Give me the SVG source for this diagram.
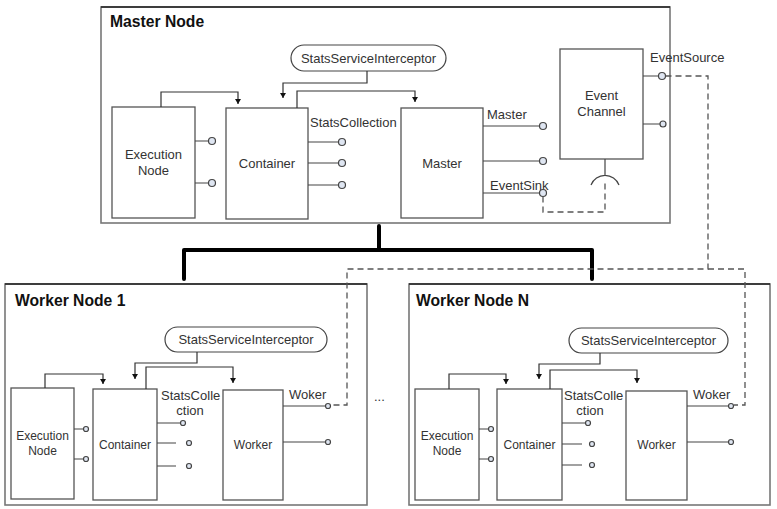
<svg xmlns="http://www.w3.org/2000/svg" width="777" height="509" viewBox="0 0 777 509">
<style>
text{font-family:"Liberation Sans",Arial,sans-serif;fill:#333}
.title{font-weight:bold;font-size:15.7px;fill:#111}
.lbl{font-size:13px}
.sm{font-size:12px}
.mid{text-anchor:middle}
.outer{fill:#fff;stroke:#777;stroke-width:1.6}
.topedge{stroke:#222;stroke-width:1.4}
.box{fill:#fff;stroke:#555;stroke-width:1.3}
.pill{fill:#fff;stroke:#444;stroke-width:1.2}
.ln{fill:none;stroke:#444;stroke-width:1.2}
.arr{fill:none;stroke:#333;stroke-width:1.2;marker-end:url(#ah)}
.lp{fill:#dfe6f2;stroke:#444;stroke-width:1.2}
.dash{fill:none;stroke:#555;stroke-width:1.3;stroke-dasharray:6 4}
.bus{fill:none;stroke:#000;stroke-width:4;stroke-linecap:round;stroke-linejoin:round}
</style>
<defs>
<marker id="ah" markerUnits="userSpaceOnUse" markerWidth="7" markerHeight="6" refX="5" refY="3" orient="auto">
<path d="M0,0 L5,3 L0,6 z" fill="#111"/>
</marker>
</defs>

<!-- Master Node -->
<g id="master-node">
<rect class="outer" x="101" y="7" width="569" height="216"/>
<line class="topedge" x1="101" y1="7" x2="670" y2="7"/>
<text class="title" x="110" y="27">Master Node</text>
</g>
<g id="m-interceptor">
<rect class="pill" x="291" y="45" width="155" height="26" rx="13"/>
<text class="lbl mid" x="368.5" y="62.5">StatsServiceInterceptor</text>
</g>
<g id="m-exec">
<rect class="box" x="112" y="107" width="83" height="111"/>
<text class="lbl mid" x="153.5" y="159">Execution</text>
<text class="lbl mid" x="153.5" y="175">Node</text>
<path class="ln" d="M195,141 H209 M195,183 H209"/>
<circle class="lp" cx="212" cy="141" r="3.5"/>
<circle class="lp" cx="212" cy="183" r="3.5"/>
</g>
<g id="m-container">
<rect class="box" x="226" y="108" width="82" height="111"/>
<text class="lbl mid" x="267" y="168">Container</text>
<text class="lbl" x="310" y="127">StatsCollection</text>
<path class="ln" d="M308,142 H339 M308,163 H339 M308,185 H339"/>
<circle class="lp" cx="342" cy="142" r="3.5"/>
<circle class="lp" cx="342" cy="163" r="3.5"/>
<circle class="lp" cx="342" cy="185" r="3.5"/>
</g>
<g id="m-master">
<rect class="box" x="401" y="108" width="82" height="110"/>
<text class="lbl mid" x="442" y="168">Master</text>
<text class="lbl" x="487" y="119">Master</text>
<text class="lbl" x="490" y="190">EventSink</text>
<path class="ln" d="M483,126 H540 M483,161 H540 M483,193 H540"/>
<circle class="lp" cx="543" cy="126" r="3.5"/>
<circle class="lp" cx="543" cy="161" r="3.5"/>
<circle class="lp" cx="543" cy="193" r="3.5"/>
</g>
<g id="m-event-channel">
<rect class="box" x="560" y="49" width="83" height="110"/>
<text class="lbl mid" x="601.5" y="100">Event</text>
<text class="lbl mid" x="601.5" y="116">Channel</text>
<text class="lbl" x="650" y="62">EventSource</text>
<path class="ln" d="M643,76 H659 M643,124 H660"/>
<circle class="lp" cx="662" cy="76" r="3.5"/>
<circle class="lp" cx="663" cy="124" r="3"/>
<path class="ln" d="M605,159 V175 M591,185 A15,15 0 0 1 619,185"/>
</g>

<!-- Worker Node 1 -->
<g id="worker-node-1">
<rect class="outer" x="5" y="284" width="362" height="221"/>
<line class="topedge" x1="5" y1="284" x2="367" y2="284"/>
<text class="title" x="15" y="306">Worker Node 1</text>
</g>
<g id="w1-interceptor">
<rect class="pill" x="165" y="327" width="162" height="25" rx="12.5"/>
<text class="lbl mid" x="246" y="344">StatsServiceInterceptor</text>
</g>
<g id="w1-exec">
<rect class="box" x="11" y="388" width="63" height="111"/>
<text class="sm mid" x="42.5" y="440">Execution</text>
<text class="sm mid" x="42.5" y="455">Node</text>
<path class="ln" d="M74,429 H84 M74,459 H84"/>
<circle class="lp" cx="86" cy="429" r="2.5"/>
<circle class="lp" cx="86" cy="459" r="2.5"/>
</g>
<g id="w1-container">
<rect class="box" x="93" y="389" width="64" height="111"/>
<text class="sm mid" x="125" y="449">Container</text>
<text class="lbl" x="161" y="400">StatsColle</text>
<text class="lbl mid" x="190" y="415">ction</text>
<path class="ln" d="M157,423 H181 M157,443 H176 M157,466 H176"/>
<circle class="lp" cx="183" cy="423" r="2.5"/>
<circle class="lp" cx="189" cy="443" r="2.5"/>
<circle class="lp" cx="189" cy="466" r="2.5"/>
</g>
<g id="w1-worker">
<rect class="box" x="223" y="390" width="60" height="110"/>
<text class="sm mid" x="253" y="449">Worker</text>
<text class="lbl" x="289" y="399">Woker</text>
<path class="ln" d="M283,406 H325 M283,442 H325"/>
<circle class="lp" cx="328" cy="406" r="2.5"/>
<circle class="lp" cx="328" cy="442" r="2.5"/>
</g>

<!-- Worker Node N -->
<g id="worker-node-n">
<rect class="outer" x="409" y="284" width="361" height="221"/>
<line class="topedge" x1="409" y1="284" x2="770" y2="284"/>
<text class="title" x="416" y="306">Worker Node N</text>
</g>
<g id="wn-interceptor">
<rect class="pill" x="569" y="328" width="159" height="25" rx="12.5"/>
<text class="lbl mid" x="648.5" y="345">StatsServiceInterceptor</text>
</g>
<g id="wn-exec">
<rect class="box" x="415" y="389" width="64" height="111"/>
<text class="sm mid" x="447" y="440">Execution</text>
<text class="sm mid" x="447" y="455">Node</text>
<path class="ln" d="M479,429 H489 M479,459 H489"/>
<circle class="lp" cx="491" cy="429" r="2.5"/>
<circle class="lp" cx="491" cy="459" r="2.5"/>
</g>
<g id="wn-container">
<rect class="box" x="497" y="389" width="65" height="111"/>
<text class="sm mid" x="529.5" y="449">Container</text>
<text class="lbl" x="564" y="400">StatsColle</text>
<text class="lbl mid" x="590" y="415">ction</text>
<path class="ln" d="M562,423 H586 M562,444 H582 M562,465 H582"/>
<circle class="lp" cx="588" cy="423" r="2.5"/>
<circle class="lp" cx="592" cy="444" r="2.5"/>
<circle class="lp" cx="592" cy="465" r="2.5"/>
</g>
<g id="wn-worker">
<rect class="box" x="626" y="391" width="61" height="109"/>
<text class="sm mid" x="656.5" y="449">Worker</text>
<text class="lbl" x="693" y="399">Woker</text>
<path class="ln" d="M687,406 H728 M687,442 H728"/>
<circle class="lp" cx="731" cy="406" r="2.5"/>
<circle class="lp" cx="731" cy="442" r="2.5"/>
</g>

<g id="ellipsis">
<text class="lbl" x="374" y="401">...</text>
</g>

<!-- Connectors -->
<g id="connectors">
<path class="bus" d="M379,226 V250 M184,279 V250 H592 V279"/>
<path class="arr" d="M161,107 V92 H238 V104"/>
<path class="arr" d="M367,71 V83 H283 V98"/>
<path class="arr" d="M297,108 V91 H415 V102"/>
<path class="dash" d="M543,196.5 V212 H605 V180"/>
<path class="dash" d="M665.5,76 H708 V269 H347 V405 H331"/>
<path class="dash" d="M708,269 H745 V405 H734"/>
<path class="arr" d="M45,388 V374 H103 V384"/>
<path class="arr" d="M197,352 V363 H135 V379"/>
<path class="arr" d="M146,389 V367 H233 V383"/>
<path class="arr" d="M449,389 V374 H506 V384"/>
<path class="arr" d="M600,353 V364 H539 V379"/>
<path class="arr" d="M550,389 V370 H637 V383"/>
</g>
</svg>
